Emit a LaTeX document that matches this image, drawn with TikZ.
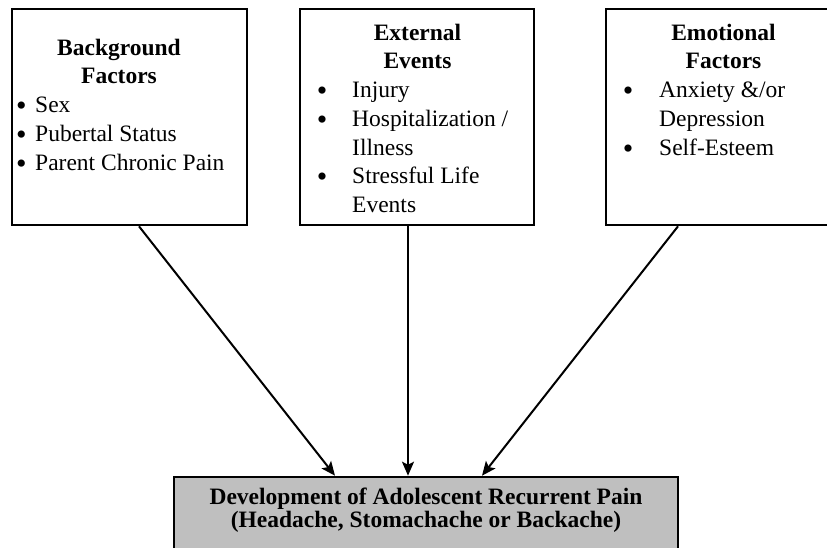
\documentclass[tikz,border=0pt]{standalone}
\usepackage{fontspec}
\setmainfont{Liberation Serif}
\usetikzlibrary{arrows.meta}
\begin{document}
\begin{tikzpicture}[x=1pt,y=-1pt,
  box/.style={draw, line width=2.6pt, fill=white, minimum width=235pt, minimum height=216pt, inner sep=0pt},
  botbox/.style={draw, line width=2.6pt, fill=black!25, minimum width=504pt, minimum height=90pt, inner sep=0pt},
  txt/.style={inner sep=0pt, font=\fontsize{23.5}{28}\selectfont},
  head/.style={inner sep=0pt, font=\fontsize{23.5}{28}\selectfont\bfseries, anchor=base},
  item/.style={txt, anchor=base west},
  bul/.style={inner sep=0pt, font=\fontsize{30}{30}\selectfont, anchor=base},
  arr/.style={-{Stealth[length=14pt,width=12pt,inset=3pt]}, line width=2pt}]
\useasboundingbox (0,0) rectangle (827,547);
\clip (0,0) rectangle (827,547);
% boxes
\node[box] (lb) at (129.5,117) {};
\node[box, minimum width=234pt] (mb) at (417,117) {};
\node[box] (rb) at (723.5,117) {};
\node[botbox] (bot) at (426,522) {};
% left box text
\node[head] (lh1) at (119,55) {Background};
\node[head] (lh2) at (119,83.5) {Factors};
\node[bul] (lb1) at (21.5,115) {•};
\node[item] (li1) at (35,112) {Sex};
\node[bul] (lb2) at (21.5,144) {•};
\node[item] (li2) at (35,141) {Pubertal Status};
\node[bul] (lb3) at (21.5,173) {•};
\node[item] (li3) at (35,170) {Parent Chronic Pain};
% middle box text
\node[head] (mh1) at (417.5,40) {External};
\node[head] (mh2) at (417.5,68.5) {Events};
\node[bul] (mb1) at (322,100) {•};
\node[item] (mi1) at (352,97) {Injury};
\node[bul] (mb2) at (322,129) {•};
\node[item] (mi2) at (352,126) {Hospitalization /};
\node[item] (mi3) at (352,155) {Illness};
\node[bul] (mb3) at (322,186.5) {•};
\node[item] (mi4) at (352,183.5) {Stressful Life};
\node[item] (mi5) at (352,212) {Events};
% right box text
\node[head] (rh1) at (723.5,40) {Emotional};
\node[head] (rh2) at (723.5,68.5) {Factors};
\node[bul] (rb1) at (628,100) {•};
\node[item] (ri1) at (659,97) {Anxiety \&/or};
\node[item] (ri2) at (659,126) {Depression};
\node[bul] (rb2) at (628,158) {•};
\node[item] (ri3) at (659,155) {Self-Esteem};
% bottom box text
\node[head] (bt1) at (426,504) {Development of Adolescent Recurrent Pain};
\node[head] (bt2) at (426,527) {(Headache, Stomachache or Backache)};
% arrows
\draw[arr] ([xshift=9.5pt]lb.south) -- ([xshift=-91pt]bot.north);
\draw[arr] ([xshift=-9pt]mb.south) -- ([xshift=-18pt]bot.north);
\draw[arr] ([xshift=-45.5pt]rb.south) -- ([xshift=56pt]bot.north);
\end{tikzpicture}
\end{document}
